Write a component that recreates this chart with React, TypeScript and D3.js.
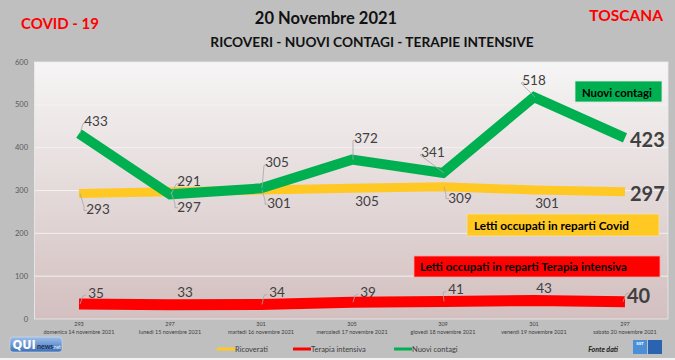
import React from "react";
import * as d3 from "d3";

const dates = [
  "domenica 14 novembre 2021",
  "lunedì 15 novembre 2021",
  "martedì 16 novembre 2021",
  "mercoledì 17 novembre 2021",
  "giovedì 18 novembre 2021",
  "venerdì 19 novembre 2021",
  "sabato 20 novembre 2021",
];
const ricoverati = [293, 297, 301, 305, 309, 301, 297];
const terapiaIntensiva = [35, 33, 34, 39, 41, 43, 40];
const nuoviContagi = [433, 291, 305, 372, 341, 518, 423];
const yTicks = [0, 100, 200, 300, 400, 500, 600];

// label placement offsets (dx, dy to text centre) and whether a leader line is drawn
const greenOff = [[17, -13, 1], [19, -13, 1], [16, -26, 1], [14, -22, 1], [-10, -21, 1], [0, -17, 1]];
const yellowOff = [[19, 16, 1], [19, 15, 1], [18, 13, 1], [15, 13, 0], [17, 11, 1], [13, 13, 0]];
const redOff = [[17, -11, 1], [15, -13, 0], [16, -12, 1], [16, -10, 1], [13, -12, 1], [10, -13, 0]];

const W = 675, H = 360;
const FONT = "Lato, 'Open Sans', sans-serif";

export default function App() {
  const x = d3.scalePoint<string>().domain(dates).range([33.5, 670.5]).padding(0.5);
  const y = d3.scaleLinear().domain([0, 600]).range([319, 62]);
  const line = d3.line<number>().x((_, i) => x(dates[i])!).y((d) => y(d));

  const labels = (vals: number[], off: number[][], color: string) =>
    vals.slice(0, 6).map((v, i) => {
      const px = x(dates[i])!, py = y(v);
      const [dx, dy, lead] = off[i];
      const tx = px + dx, ty = py + dy;
      const left = tx - 11;
      return (
        <g key={i}>
          {lead ? (
            <polyline
              points={
                dy < 0
                  ? `${px + 1},${py} ${left - 2},${ty + 3} ${left + 1},${ty + 2}`
                  : `${px + 1},${py} ${left - 3},${ty - 3} ${left - 3},${ty + 1} ${left},${ty + 1}`
              }
              fill="none"
              stroke="#a6a6a6"
              strokeWidth={0.8}
            />
          ) : null}
          <text x={tx} y={ty} textAnchor="middle" dominantBaseline="central" fontSize={13.5} fill={color} fontFamily={FONT}>
            {v}
          </text>
        </g>
      );
    });

  const last = 6;
  const lx = x(dates[last])!;

  return (
    <svg width={W} height={H} style={{ position: "absolute", left: 0, top: 0 }} fontFamily={FONT}>
      <defs>
        <linearGradient id="pg" x1="0" y1="0" x2="0" y2="1">
          <stop offset="0" stopColor="#f6f5f5" />
          <stop offset="1" stopColor="#d3bfbf" />
        </linearGradient>
        <linearGradient id="qui" x1="0" y1="0" x2="0" y2="1">
          <stop offset="0" stopColor="#9cc0ec" />
          <stop offset="1" stopColor="#3d6fb5" />
        </linearGradient>
      </defs>
      <rect x={0} y={0} width={W} height={H} fill="#bfbfbf" />
      <rect x={0} y={358} width={W} height={2} fill="#f2f2f2" />

      {/* titles */}
      <text x={21} y={29} fontSize={15} fontWeight="bold" fill="#ff0000">COVID - 19</text>
      <text x={326} y={23.5} textAnchor="middle" fontSize={16.5} fontWeight="bold" fill="#111">20 Novembre 2021</text>
      <text x={372} y={46.5} textAnchor="middle" fontSize={13.7} fontWeight="bold" fill="#111">RICOVERI - NUOVI CONTAGI - TERAPIE INTENSIVE</text>
      <text x={663} y={21} textAnchor="end" fontSize={15.5} fontWeight="bold" fill="#ff0000">TOSCANA</text>

      {/* plot area */}
      <rect x={34.5} y={62} width={633.5} height={257} fill="url(#pg)" stroke="#ececec" strokeWidth={0.8} />
      {yTicks.slice(1, 6).map((t) => (
        <line key={t} x1={35} x2={668} y1={y(t)} y2={y(t)} stroke="#f4f1f1" strokeWidth={1} />
      ))}
      {yTicks.map((t) => (
        <text key={t} x={28} y={y(t)} textAnchor="end" dominantBaseline="central" fontSize={7.5} fill="#595959">
          {t}
        </text>
      ))}

      {/* x labels */}
      {dates.map((d, i) => (
        <g key={d}>
          <text x={x(d)} y={325.5} textAnchor="middle" fontSize={5.5} fill="#404040">{ricoverati[i]}</text>
          <text x={x(d)} y={334} textAnchor="middle" fontSize={5.5} fill="#404040">{d}</text>
        </g>
      ))}

      {/* series */}
      <path d={line(ricoverati)!} fill="none" stroke="#ffc823" strokeWidth={9} />
      <path d={line(terapiaIntensiva)!} fill="none" stroke="#ff0000" strokeWidth={11} />
      <path d={line(nuoviContagi)!} fill="none" stroke="#00b050" strokeWidth={10} strokeLinejoin="miter" />

      {labels(nuoviContagi, greenOff, "#404040")}
      {labels(ricoverati, yellowOff, "#404040")}
      {labels(terapiaIntensiva, redOff, "#404040")}

      {/* last big labels */}
      <text x={lx + 5} y={y(nuoviContagi[last]) + 1.5} dominantBaseline="central" fontSize={20} fontWeight="bold" fill="#404040">{nuoviContagi[last]}</text>
      <text x={lx + 5} y={y(ricoverati[last]) + 1.5} dominantBaseline="central" fontSize={20} fontWeight="bold" fill="#404040">{ricoverati[last]}</text>
      <polyline points={`${lx - 2},${y(terapiaIntensiva[last])} ${lx + 1},${y(terapiaIntensiva[last]) - 8} ${lx + 4},${y(terapiaIntensiva[last]) - 9}`} fill="none" stroke="#a6a6a6" strokeWidth={0.8} />
      <text x={lx + 2} y={y(terapiaIntensiva[last]) - 7} dominantBaseline="central" fontSize={20} fontWeight="bold" fill="#404040">{terapiaIntensiva[last]}</text>

      {/* annotation boxes */}
      <rect x={575} y={81} width={87} height={21} fill="#00b050" stroke="#e6e6e6" strokeWidth={0.8} />
      <text x={582} y={92} dominantBaseline="central" fontSize={11.3} fontWeight="bold" fill="#000">Nuovi contagi</text>
      <rect x={467} y={214} width={192} height={22} fill="#ffc823" stroke="#f0e0b0" strokeWidth={0.8} />
      <text x={474} y={225.5} dominantBaseline="central" fontSize={11.8} fontWeight="bold" fill="#000">Letti occupati in reparti Covid</text>
      <rect x={414} y={256} width={246} height={21} fill="#ff0000" stroke="#f3a0a0" strokeWidth={0.8} />
      <text x={420} y={266.5} dominantBaseline="central" fontSize={11.5} fontWeight="bold" fill="#000">Letti occupati in reparti Terapia intensiva</text>

      {/* legend */}
      {[
        { n: "Ricoverati", c: "#ffc823", x0: 217 },
        { n: "Terapia intensiva", c: "#ff0000", x0: 293 },
        { n: "Nuovi contagi", c: "#00b050", x0: 394 },
      ].map((l) => (
        <g key={l.n}>
          <line x1={l.x0} x2={l.x0 + 18} y1={349} y2={349} stroke={l.c} strokeWidth={3} />
          <text x={l.x0 + 18} y={349} dominantBaseline="central" fontSize={7.5} fill="#404040">{l.n}</text>
        </g>
      ))}
      <text x={618} y={349} textAnchor="end" dominantBaseline="central" fontSize={7} fontStyle="italic" fontWeight="bold" fill="#222">Fonte dati</text>
      <rect x={633} y={340} width={14} height={14} fill="#4a8fd8" />
      <text x={640} y={345} textAnchor="middle" fontSize={4.5} fontWeight="bold" fill="#fff">SST</text>
      <rect x={648} y={340} width={14} height={14} fill="#2a63b0" />

      {/* QUI news logo */}
      <rect x={10} y={337} width={52} height={15} rx={3} fill="url(#qui)" stroke="#d0dff0" strokeWidth={0.6} />
      <text x={12.5} y={349} fontSize={11.5} fontWeight="bold" fill="#fff" fontFamily="'DejaVu Sans', sans-serif">QUI</text>
      <text x={37} y={348.5} fontSize={7} fontWeight="bold" fill="#1d2f55">news</text>
      <text x={52.5} y={348.5} fontSize={5} fill="#e8f0fa">.net</text>
    </svg>
  );
}
